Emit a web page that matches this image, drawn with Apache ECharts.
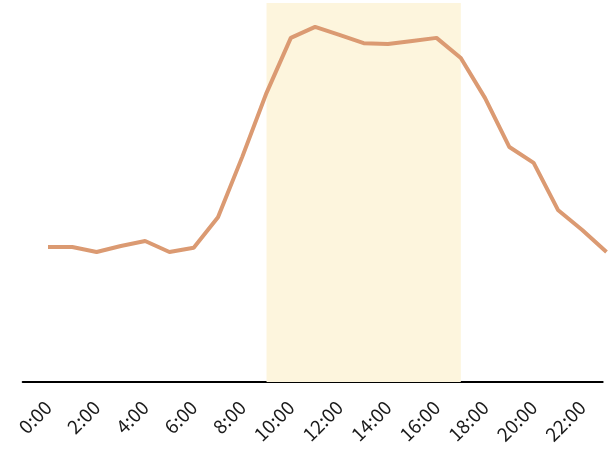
<!DOCTYPE html>
<html>
<head>
<meta charset="utf-8">
<script src="https://cdn.jsdelivr.net/npm/echarts@6/dist/echarts.min.js"></script>
<style>html,body{margin:0;padding:0;background:#fff}#c{width:613px;height:455px}</style>
</head>
<body>
<div id="c"></div>
<script>
var hours = ['0:00','1:00','2:00','3:00','4:00','5:00','6:00','7:00','8:00','9:00','10:00','11:00','12:00','13:00','14:00','15:00','16:00','17:00','18:00','19:00','20:00','21:00','22:00','23:00'];
var values = [35.6,35.6,34.3,35.9,37.2,34.3,35.4,43.5,59.4,76.3,90.8,93.7,91.6,89.4,89.2,90.0,90.8,85.5,74.9,62.0,57.8,45.4,40.1,34.3];
var highlightStart = '9:00';
var highlightEnd = '17:00';

var chart = echarts.init(document.getElementById('c'));
chart.setOption({
  animation: false,
  grid: [
    {left: 48, right: 6.5, top: 3, bottom: 73},
    {left: 22.7, right: 10.3, top: 3, bottom: 73}
  ],
  xAxis: [
    {
      type: 'category', gridIndex: 0, data: hours, boundaryGap: false,
      axisLine: {show: false}, axisTick: {show: false},
      axisLabel: {interval: 1, rotate: 45, fontSize: 19, color: '#1a1a1a', margin: 22, fontFamily: 'Noto Sans CJK JP'}
    },
    {
      type: 'value', gridIndex: 1, min: 0, max: 1,
      axisLine: {show: true, lineStyle: {color: '#000', width: 2}},
      axisTick: {show: false}, axisLabel: {show: false}, splitLine: {show: false}
    }
  ],
  yAxis: [
    {type: 'value', gridIndex: 0, min: 0, max: 100, show: false},
    {type: 'value', gridIndex: 1, min: 0, max: 1, show: false}
  ],
  series: [{
    type: 'line', xAxisIndex: 0, yAxisIndex: 0, data: values,
    symbol: 'none', smooth: false,
    lineStyle: {color: '#db9a72', width: 4},
    markArea: {
      silent: true,
      itemStyle: {color: '#fdf5dd'},
      data: [[{xAxis: highlightStart}, {xAxis: highlightEnd}]]
    },
    z: 3
  }]
});
</script>
</body>
</html>
